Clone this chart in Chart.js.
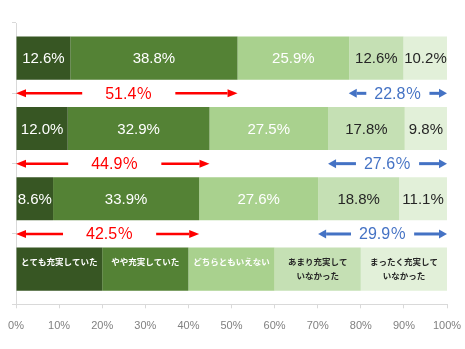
<!DOCTYPE html>
<html>
<head>
<meta charset="utf-8">
<script src="https://cdn.jsdelivr.net/npm/chart.js@4"></script>
<style>
  html, body { margin: 0; padding: 0; background: #fff; }
  #wrap { width: 465px; height: 349px; }
</style>
</head>
<body>
<div id="wrap"><canvas id="grafico"></canvas></div>
<script>
// Categorias de resposta (a última linha do gráfico serve de legenda)
const categorias = ['とても充実していた', 'やや充実していた', 'どちらともいえない', 'あまり充実して\nいなかった', 'まったく充実して\nいなかった'];

// Valores (%) de cada barra
const linha1 = [12.6, 38.8, 25.9, 12.6, 10.2];
const linha2 = [12.0, 32.9, 27.5, 17.8, 9.8];
const linha3 = [8.6, 33.9, 27.6, 18.8, 11.1];
const linhaLegenda = [20, 20, 20, 20, 20];

const linhas = [linha1, linha2, linha3, linhaLegenda];
const rotulosEixo = ['', '', '', ''];

const cores = ['#375623', '#548235', '#A9D18E', '#C5E0B4', '#E2F0D9'];
const coresTexto = ['#ffffff', '#ffffff', '#ffffff', '#262626', '#262626'];

// seta horizontal, ponta em xPonta
function desenharSeta(ctx, xCauda, xPonta, y, cor, espessura, compPonta, largPonta) {
  const dir = xPonta > xCauda ? 1 : -1;
  ctx.save();
  ctx.strokeStyle = cor;
  ctx.fillStyle = cor;
  ctx.lineWidth = espessura;
  ctx.beginPath();
  ctx.moveTo(xCauda, y);
  ctx.lineTo(xPonta - dir * compPonta, y);
  ctx.stroke();
  ctx.beginPath();
  ctx.moveTo(xPonta, y);
  ctx.lineTo(xPonta - dir * compPonta, y - largPonta / 2);
  ctx.lineTo(xPonta - dir * compPonta, y + largPonta / 2);
  ctx.closePath();
  ctx.fill();
  ctx.restore();
}

// anotação: setas com o total no meio
function desenharFaixa(ctx, x0, x1, y, texto, cor, espaco, espessura, compPonta, largPonta, desloc) {
  ctx.save();
  ctx.font = '16px "Liberation Sans", "Noto Sans CJK JP"';
  ctx.fillStyle = cor;
  ctx.textAlign = 'center';
  ctx.textBaseline = 'middle';
  const centro = (x0 + x1) / 2 + desloc;
  const w = ctx.measureText(texto).width;
  ctx.fillText(texto, centro, y + 1);
  ctx.restore();
  desenharSeta(ctx, centro - w / 2 - espaco, x0, y, cor, espessura, compPonta, largPonta);
  desenharSeta(ctx, centro + w / 2 + espaco, x1, y, cor, espessura, compPonta, largPonta);
}

const pluginRotulos = {
  id: 'rotulos',
  afterDatasetsDraw(chart) {
    const ctx = chart.ctx;
    const xS = chart.scales.x;
    const yS = chart.scales.y;

    chart.data.datasets.forEach((ds, i) => {
      const meta = chart.getDatasetMeta(i);
      meta.data.forEach((bar, j) => {
        const cx = (bar.x + bar.base) / 2;
        ctx.save();
        ctx.textAlign = 'center';
        ctx.fillStyle = coresTexto[i];
        if (j < 3) {
          ctx.font = '15px "Liberation Sans"';
          ctx.textBaseline = 'middle';
          ctx.fillText(ds.data[j].toFixed(1) + '%', cx, bar.y + 1);
        } else {
          // linha de legenda
          ctx.font = 'bold 8.5px "Noto Sans CJK JP"';
          ctx.textBaseline = 'middle';
          const topo = bar.y - bar.height / 2;
          categorias[i].split('\n').forEach((t, k) => {
            ctx.fillText(t, cx, topo + 14 + k * 14);
          });
        }
        ctx.restore();
      });
    });

    // totais entre as barras
    for (let j = 0; j < 3; j++) {
      const v = linhas[j];
      const y = (yS.getPixelForValue(j) + yS.getPixelForValue(j + 1)) / 2;
      const positivo = v[0] + v[1];
      const negativo = v[3] + v[4];
      desenharFaixa(ctx, xS.getPixelForValue(0), xS.getPixelForValue(positivo), y,
        positivo.toFixed(1) + '％', '#FF0000', 23, 2.5, 10, 8, 2);
      desenharFaixa(ctx, xS.getPixelForValue(100 - negativo), xS.getPixelForValue(100), y,
        negativo.toFixed(1) + '％', '#4472C4', 8, 3, 8, 9, 0);
    }
  }
};

new Chart(document.getElementById('grafico').getContext('2d'), {
  type: 'bar',
  data: {
    labels: rotulosEixo,
    datasets: categorias.map((c, i) => ({
      label: c,
      data: linhas.map(l => l[i]),
      backgroundColor: cores[i],
      borderWidth: 0,
      categoryPercentage: 1,
      barPercentage: 0.613
    }))
  },
  options: {
    indexAxis: 'y',
    responsive: true,
    maintainAspectRatio: false,
    animation: false,
    layout: { padding: { left: 12, right: 18, top: 23, bottom: 5 } },
    plugins: {
      legend: { display: false },
      tooltip: { enabled: false }
    },
    scales: {
      x: {
        stacked: true,
        min: 0,
        max: 100,
        ticks: {
          stepSize: 10,
          padding: 3,
          color: '#808080',
          font: { family: '"Liberation Sans"', size: 11, lineHeight: 2.7 },
          callback: v => v + '%'
        },
        grid: { drawOnChartArea: false, tickLength: 4, color: '#d9d9d9' },
        border: { color: '#d9d9d9' }
      },
      y: {
        stacked: true,
        ticks: { display: false },
        grid: { offset: true, drawOnChartArea: false, tickLength: 4, color: '#d9d9d9' },
        border: { color: '#d9d9d9' }
      }
    }
  },
  plugins: [pluginRotulos]
});
</script>
</body>
</html>
